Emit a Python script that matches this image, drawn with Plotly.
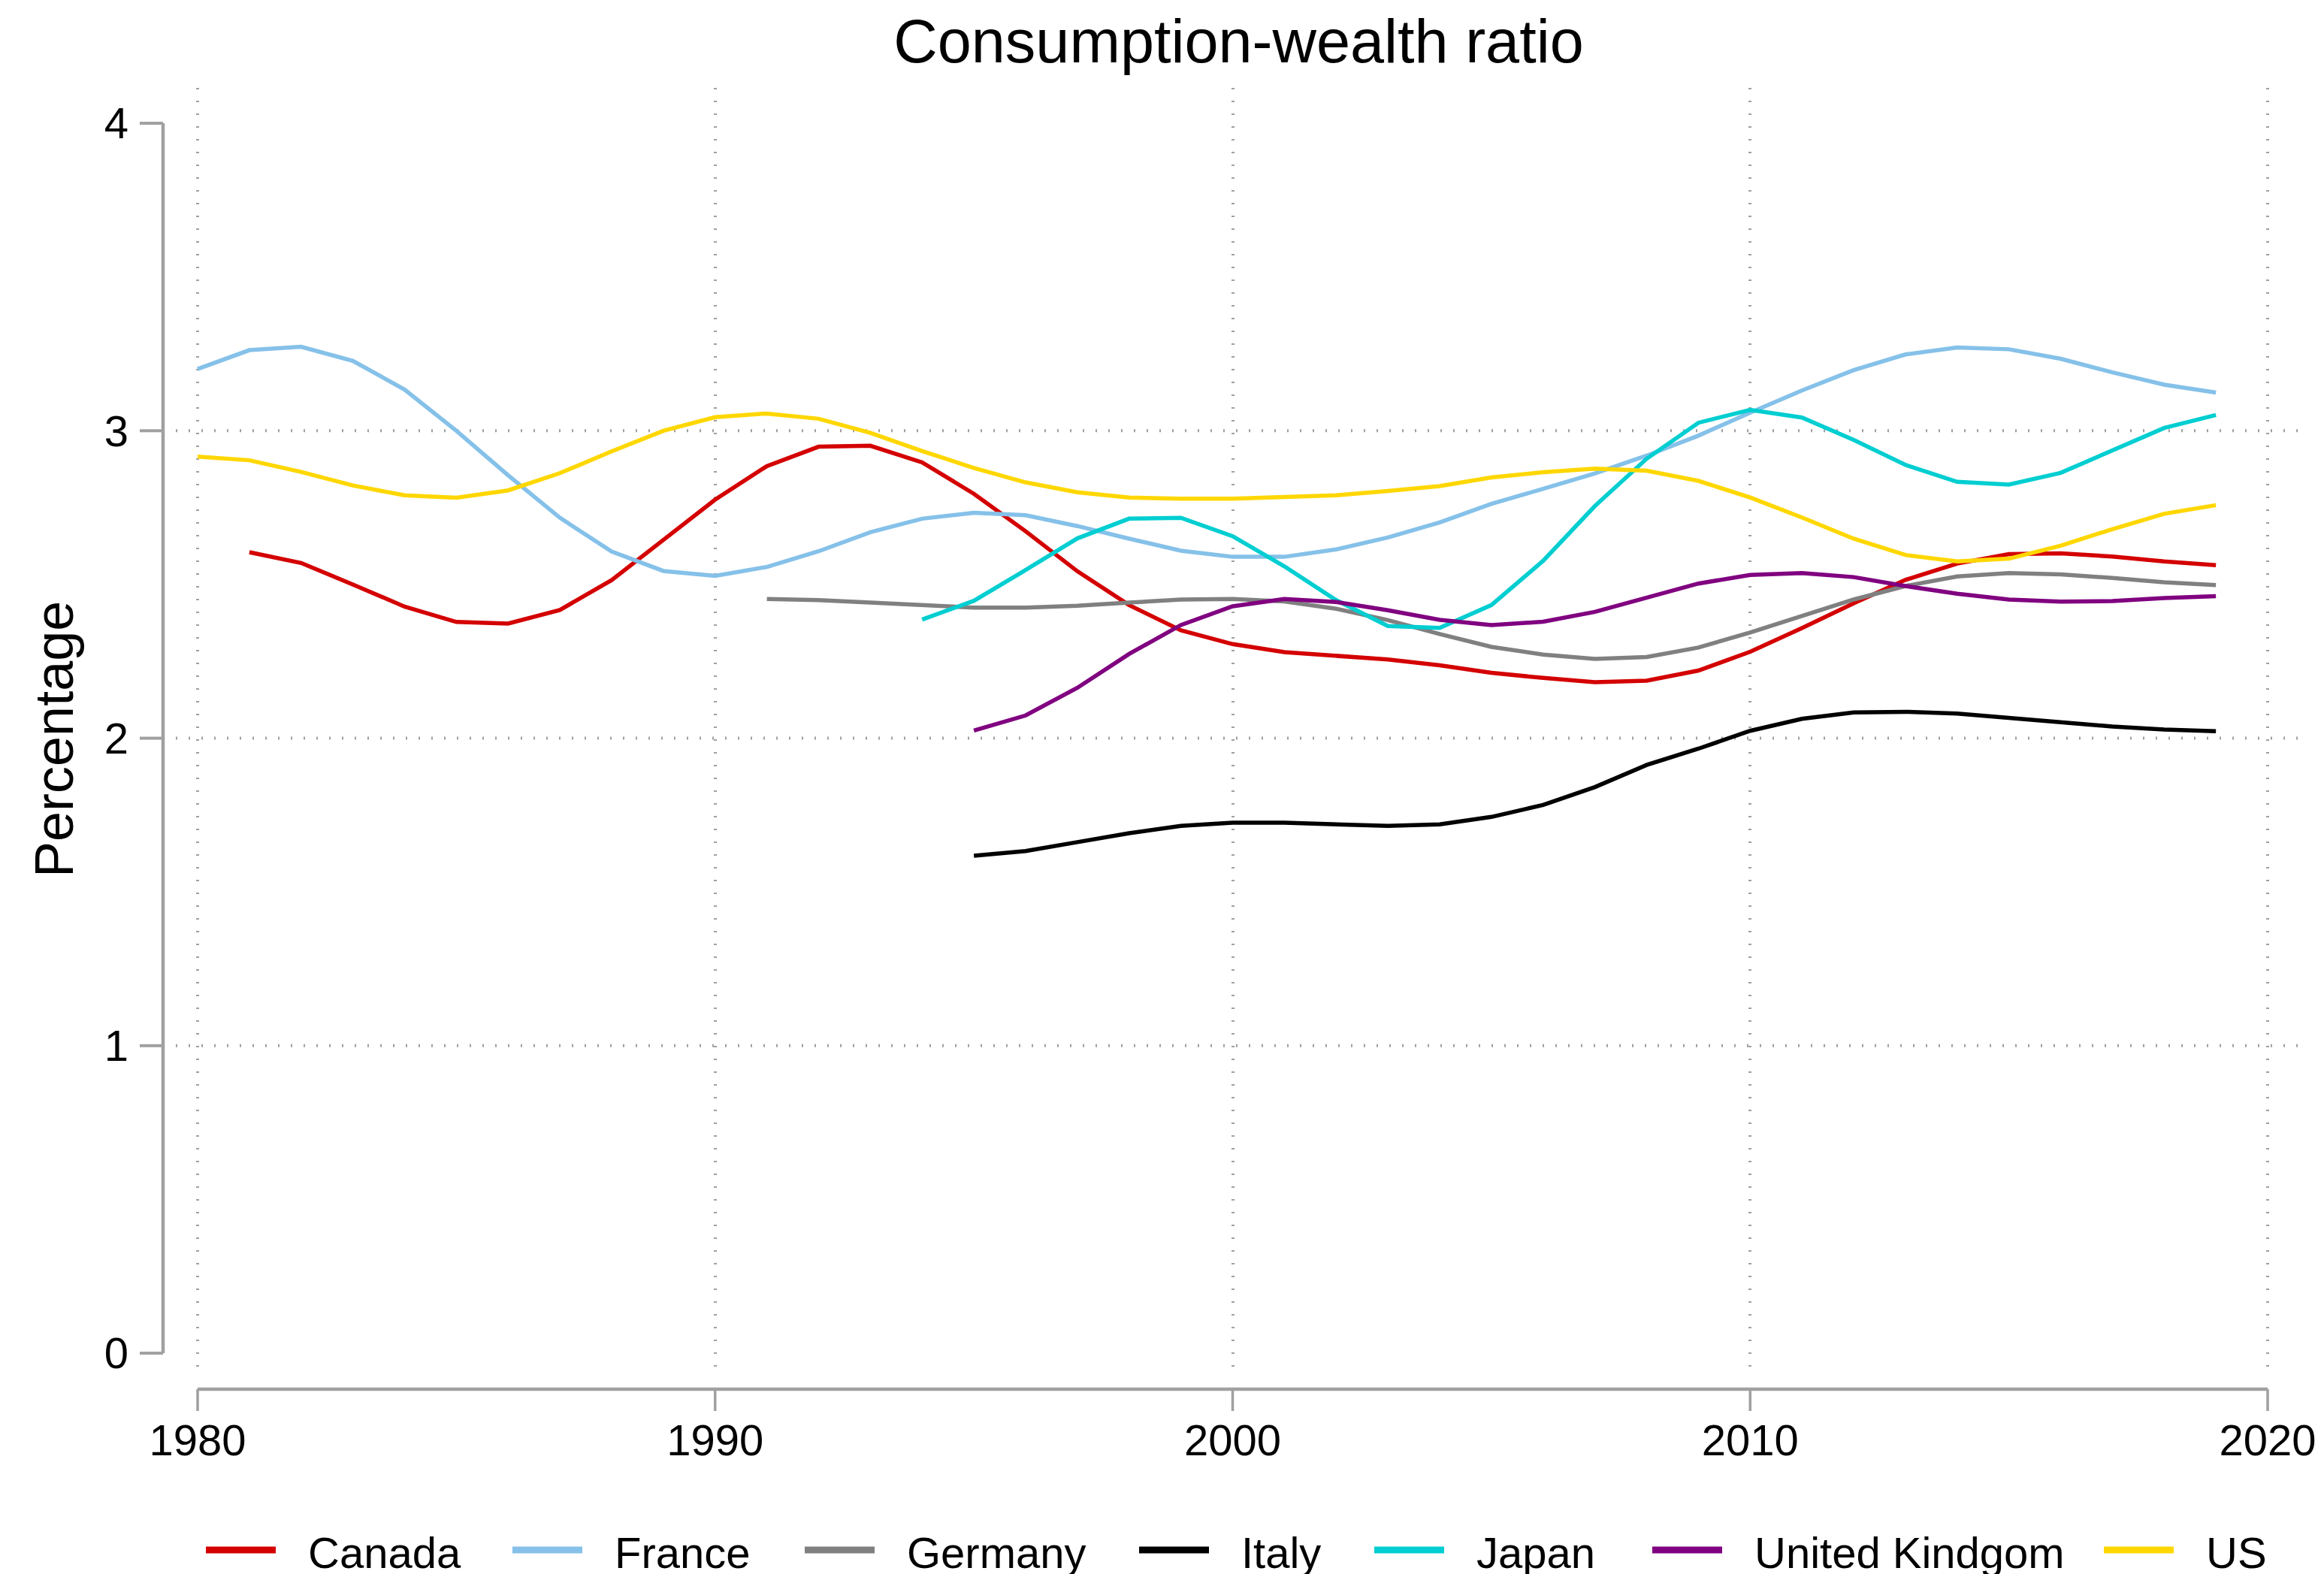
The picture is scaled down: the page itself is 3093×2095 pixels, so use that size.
import plotly.graph_objects as go

# ---------------- data ----------------
countries = ["Canada", "France", "Germany", "Italy", "Japan", "United Kindgom", "US"]
colors = ["#D40000", "#85C1E9", "#808080", "#000000", "#00CED1", "#800080", "#FFD700"]

years_canada = list(range(1981, 2020))
canada = [2.605, 2.57, 2.50, 2.428, 2.378, 2.373, 2.417, 2.514, 2.645, 2.776,
          2.885, 2.948, 2.951, 2.897, 2.795, 2.673, 2.543, 2.433, 2.351, 2.306,
          2.28, 2.267, 2.256, 2.237, 2.213, 2.196, 2.182, 2.187, 2.22, 2.281,
          2.358, 2.439, 2.515, 2.568, 2.599, 2.601, 2.591, 2.575, 2.563]

years_france = list(range(1980, 2020))
france = [3.201, 3.262, 3.273, 3.227, 3.134, 3.0, 2.855, 2.717, 2.607, 2.544,
          2.528, 2.557, 2.608, 2.670, 2.714, 2.733, 2.725, 2.69, 2.649, 2.61,
          2.59, 2.59, 2.614, 2.653, 2.702, 2.762, 2.811, 2.861, 2.919, 2.984,
          3.059, 3.131, 3.197, 3.248, 3.271, 3.265, 3.234, 3.19, 3.15, 3.124]

years_germany = list(range(1991, 2020))
germany = [2.453, 2.449, 2.441, 2.432, 2.425, 2.425, 2.431, 2.441, 2.451, 2.453,
           2.445, 2.421, 2.384, 2.339, 2.297, 2.272, 2.258, 2.264, 2.295, 2.344,
           2.398, 2.451, 2.495, 2.526, 2.537, 2.533, 2.521, 2.507, 2.498]

years_italy = list(range(1995, 2020))
italy = [1.618, 1.633, 1.662, 1.691, 1.715, 1.725, 1.725, 1.72, 1.715, 1.72,
         1.744, 1.783, 1.841, 1.913, 1.966, 2.024, 2.063, 2.084, 2.086, 2.08,
         2.066, 2.052, 2.038, 2.028, 2.023]

years_japan = list(range(1994, 2020))
japan = [2.386, 2.447, 2.547, 2.65, 2.714, 2.717, 2.657, 2.559, 2.449, 2.365,
         2.359, 2.433, 2.577, 2.755, 2.909, 3.026, 3.068, 3.043, 2.97, 2.889,
         2.834, 2.825, 2.863, 2.935, 3.009, 3.051]

years_uk = list(range(1995, 2020))
uk = [2.025, 2.074, 2.164, 2.274, 2.368, 2.429, 2.453, 2.443, 2.416, 2.385,
      2.368, 2.379, 2.411, 2.458, 2.503, 2.531, 2.537, 2.524, 2.495, 2.47,
      2.451, 2.444, 2.446, 2.456, 2.462]

years_us = list(range(1980, 2020))
us = [2.916, 2.904, 2.866, 2.822, 2.79, 2.782, 2.806, 2.862, 2.933, 3.0,
      3.044, 3.056, 3.039, 2.993, 2.934, 2.879, 2.832, 2.80, 2.783, 2.779,
      2.779, 2.783, 2.79, 2.804, 2.82, 2.848, 2.865, 2.877, 2.87, 2.837,
      2.783, 2.718, 2.649, 2.596, 2.575, 2.584, 2.626, 2.68, 2.73, 2.758]

xs = [years_canada, years_france, years_germany, years_italy, years_japan, years_uk, years_us]
ys = [canada, france, germany, italy, japan, uk, us]

x_ticks = [1980, 1990, 2000, 2010, 2020]
y_ticks = [0, 1, 2, 3, 4]
y_grid = [1, 2, 3]

title_text = "Consumption-wealth ratio"
y_title = "Percentage"

# ---------------- layout geometry (pixels) ----------------
W, H = 3093, 2095
L, R, T, B = 234, 3063, 117, 1833
PW, PH = R - L, B - T
X_RANGE = [1979.579, 2020.653]
Y_RANGE = [-0.078, 4.115]
FONT = "Liberation Sans, Arial, Helvetica, sans-serif"
AXIS_GRAY = "#A0A0A0"
GRID_GRAY = "#A0A0A0"


def px_x(p):
    return (p - L) / PW


def px_y(p):
    return (B - p) / PH


fig = go.Figure()
for name, col, x, y in zip(countries, colors, xs, ys):
    fig.add_trace(go.Scatter(x=x, y=y, mode="lines", name=name,
                             line=dict(color=col, width=5.5), showlegend=False))

shapes = []
# horizontal dotted grid
for v in y_grid:
    shapes.append(dict(type="line", xref="paper", yref="y", x0=0, x1=1, y0=v, y1=v,
                       line=dict(color=GRID_GRAY, width=4, dash="2px,15px"), layer="below"))
# y axis line and ticks
shapes.append(dict(type="line", xref="paper", yref="y", x0=px_x(217), x1=px_x(217),
                   y0=y_ticks[0], y1=y_ticks[-1], line=dict(color=AXIS_GRAY, width=4.5)))
for v in y_ticks:
    shapes.append(dict(type="line", xref="paper", yref="y", x0=px_x(186), x1=px_x(217),
                       y0=v, y1=v, line=dict(color=AXIS_GRAY, width=4)))
# x axis line and ticks
shapes.append(dict(type="line", xref="x", yref="paper", x0=x_ticks[0], x1=x_ticks[-1],
                   y0=px_y(1849), y1=px_y(1849), line=dict(color=AXIS_GRAY, width=4.5)))
for v in x_ticks:
    shapes.append(dict(type="line", xref="x", yref="paper", x0=v, x1=v,
                       y0=px_y(1849), y1=px_y(1878), line=dict(color=AXIS_GRAY, width=3.5)))

# manual legend
legend_line_starts = [274, 682, 1071, 1516, 1829, 2199, 2800]
LEG_Y = 2063
annotations = []
for name, col, x0 in zip(countries, colors, legend_line_starts):
    shapes.append(dict(type="line", xref="paper", yref="paper", x0=px_x(x0), x1=px_x(x0 + 93),
                       y0=px_y(LEG_Y), y1=px_y(LEG_Y), line=dict(color=col, width=9)))
    annotations.append(dict(text=name, xref="paper", yref="paper", x=px_x(x0 + 134),
                            y=px_y(LEG_Y + 3), xanchor="left", yanchor="middle",
                            showarrow=False, font=dict(size=58, color="black", family=FONT)))

annotations.append(dict(text=y_title, xref="paper", yref="paper", x=px_x(72), y=px_y(984),
                        xanchor="center", yanchor="middle", textangle=-90, showarrow=False,
                        font=dict(size=72, color="black", family=FONT)))

fig.update_layout(
    width=W, height=H,
    margin=dict(l=L, r=W - R, t=T, b=H - B, autoexpand=False),
    paper_bgcolor="white", plot_bgcolor="white",
    font=dict(family=FONT, color="black"),
    title=dict(text=title_text, x=0.5, xref="paper", xanchor="center",
               y=1 - 55 / H, yref="container", yanchor="middle",
               font=dict(size=81, color="black", family=FONT)),
    xaxis=dict(range=X_RANGE, tickvals=x_ticks, ticks="", showline=False, zeroline=False,
               showgrid=True, gridcolor=GRID_GRAY, gridwidth=4, griddash="2px,15px",
               tickfont=dict(size=58, color="black", family=FONT), ticklabelstandoff=45,
               automargin=False),
    yaxis=dict(range=Y_RANGE, tickvals=y_ticks, ticks="", showline=False, zeroline=False,
               showgrid=False, tickfont=dict(size=58, color="black", family=FONT),
               ticklabelstandoff=62, automargin=False),
    shapes=shapes,
    annotations=annotations,
)

fig.write_html("out.html", config={"displayModeBar": False},
               post_script="document.body.style.margin='0px';document.body.style.overflow='hidden';")
